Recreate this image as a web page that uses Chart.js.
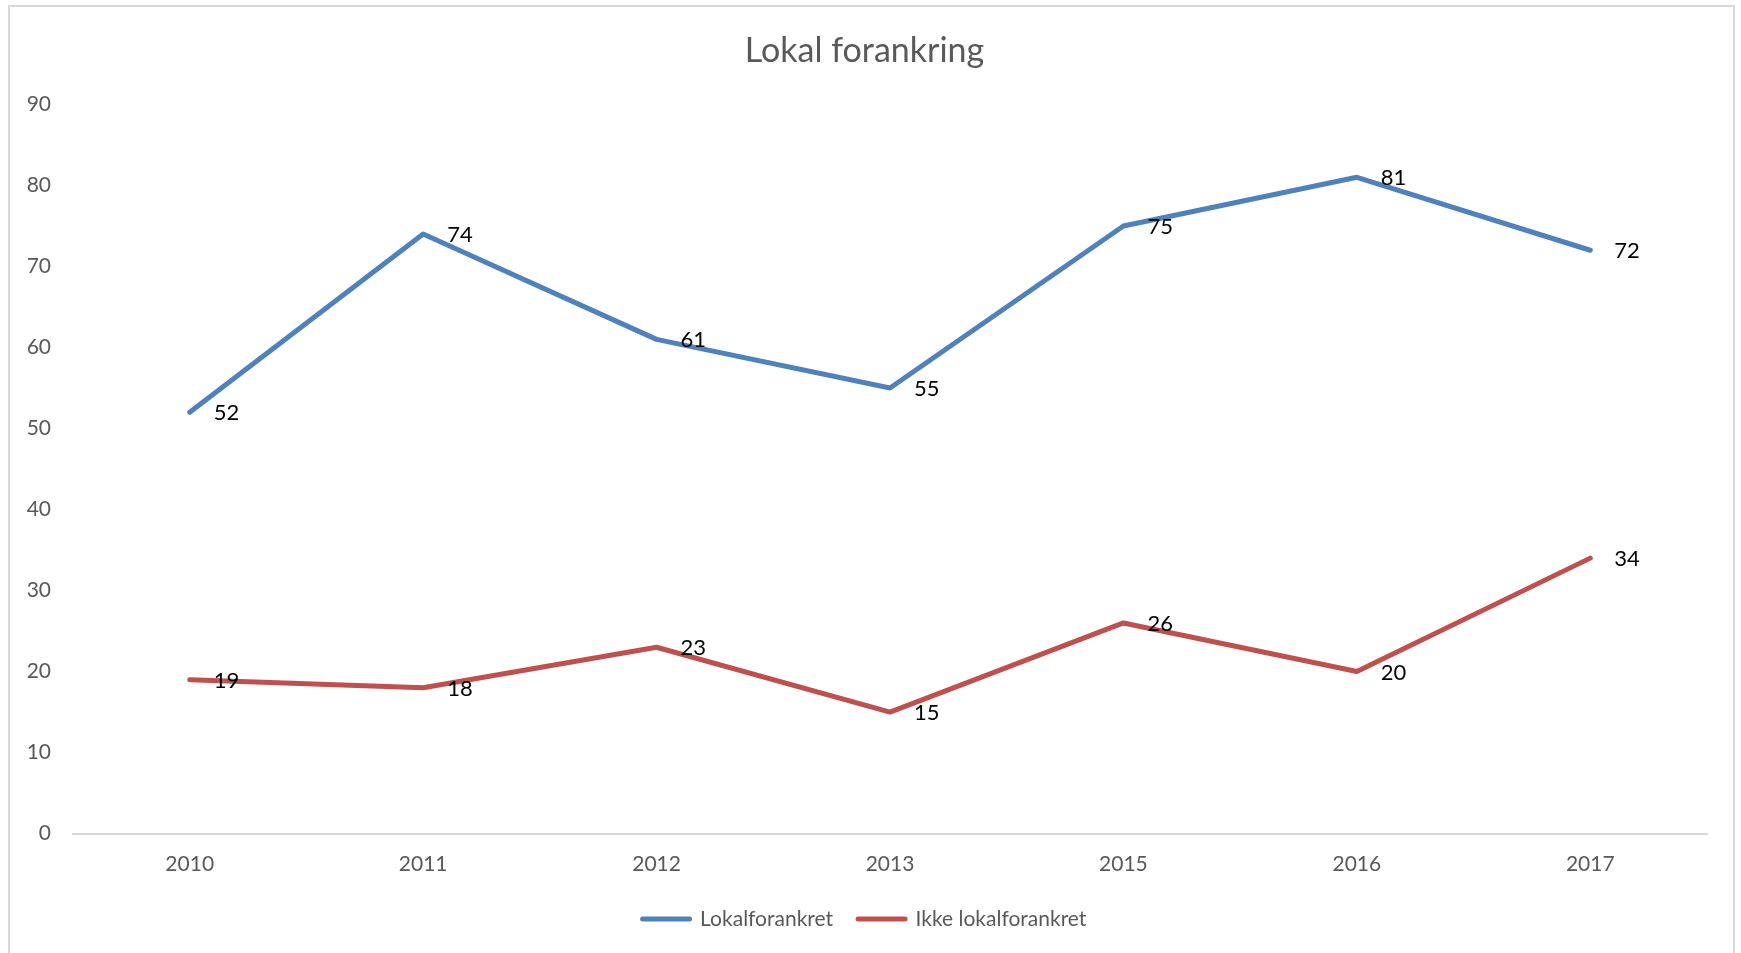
<!DOCTYPE html>
<html>
<head>
<meta charset="utf-8">
<script src="https://cdn.jsdelivr.net/npm/chart.js@4/dist/chart.umd.min.js"></script>
<style>
  html, body { margin: 0; padding: 0; background: #ffffff; overflow: hidden; }
  #wrap { position: absolute; left: 0; top: 0; width: 1741px; height: 953px; }
  #frame { position: absolute; left: 8px; top: 5px; width: 1727px; height: 1000px; border: 2px solid #d9d9d9; box-sizing: border-box; pointer-events: none; }
  canvas { position: absolute; left: 0; top: 0; }
</style>
</head>
<body>
<div id="wrap">
  <canvas id="c" width="1741" height="953"></canvas>
  <div id="frame"></div>
</div>
<script>
const chartTitle = "Lokal forankring";
const categories = ["2010", "2011", "2012", "2013", "2015", "2016", "2017"];
const seriesNames = ["Lokalforankret", "Ikke lokalforankret"];
const lokalforankret = [52, 74, 61, 55, 75, 81, 72];
const ikkeLokalforankret = [19, 18, 23, 15, 26, 20, 34];
const yTicks = [0, 10, 20, 30, 40, 50, 60, 70, 80, 90];
const colors = ["#4F81BD", "#C0504D"];

const FONT = "Lato, 'Open Sans', sans-serif";

const dataLabelPlugin = {
  id: "dataLabels",
  afterDatasetsDraw(chart) {
    const ctx = chart.ctx;
    ctx.save();
    ctx.font = "22px " + FONT;
    ctx.fillStyle = "#000000";
    ctx.textAlign = "left";
    ctx.textBaseline = "middle";
    chart.data.datasets.forEach((ds, i) => {
      const meta = chart.getDatasetMeta(i);
      meta.data.forEach((pt, j) => {
        ctx.fillText(String(ds.data[j]), pt.x + 24, pt.y + 1);
      });
    });
    ctx.restore();
  }
};

new Chart(document.getElementById("c"), {
  type: "line",
  data: {
    labels: categories,
    datasets: [
      {
        label: seriesNames[0],
        data: lokalforankret,
        borderColor: colors[0],
        backgroundColor: colors[0],
        borderWidth: 5,
        borderCapStyle: "round",
        borderJoinStyle: "round",
        pointRadius: 0,
        tension: 0
      },
      {
        label: seriesNames[1],
        data: ikkeLokalforankret,
        borderColor: colors[1],
        backgroundColor: colors[1],
        borderWidth: 5,
        borderCapStyle: "round",
        borderJoinStyle: "round",
        pointRadius: 0,
        tension: 0
      }
    ]
  },
  options: {
    responsive: false,
    animation: false,
    devicePixelRatio: 1,
    layout: { padding: { left: 22, right: 34, top: 0, bottom: 13.4 } },
    plugins: {
      tooltip: { enabled: false },
      title: {
        display: true,
        text: chartTitle,
        color: "#595959",
        font: { family: FONT, size: 34, weight: "normal" },
        padding: { top: 31, bottom: 32.6 }
      },
      legend: {
        display: true,
        position: "bottom",
        labels: {
          color: "#595959",
          font: { family: FONT, size: 21 },
          usePointStyle: true,
          pointStyle: "line",
          pointStyleWidth: 47,
          boxHeight: 5,
          padding: 25,
          generateLabels(chart) {
            return chart.data.datasets.map((ds, i) => ({
              text: ds.label,
              fillStyle: ds.borderColor,
              strokeStyle: ds.borderColor,
              lineWidth: 5,
              lineCap: "round",
              pointStyle: "line",
              hidden: false,
              datasetIndex: i,
              fontColor: "#595959"
            }));
          }
        }
      }
    },
    scales: {
      x: {
        offset: true,
        grid: { display: false },
        border: { display: true, color: "#d9d9d9", width: 2 },
        ticks: { color: "#595959", font: { family: FONT, size: 21 }, padding: 10, maxRotation: 0 },
        afterFit(scale) { scale.height = 50; }
      },
      y: {
        min: 0,
        max: 90,
        grid: { display: false },
        border: { display: false },
        ticks: {
          color: "#595959",
          font: { family: FONT, size: 21 },
          padding: 14,
          stepSize: 10,
          callback: (v) => yTicks.includes(v) ? String(v) : ""
        },
        afterFit(scale) { scale.width = 51; }
      }
    }
  },
  plugins: [dataLabelPlugin]
});
</script>
</body>
</html>
